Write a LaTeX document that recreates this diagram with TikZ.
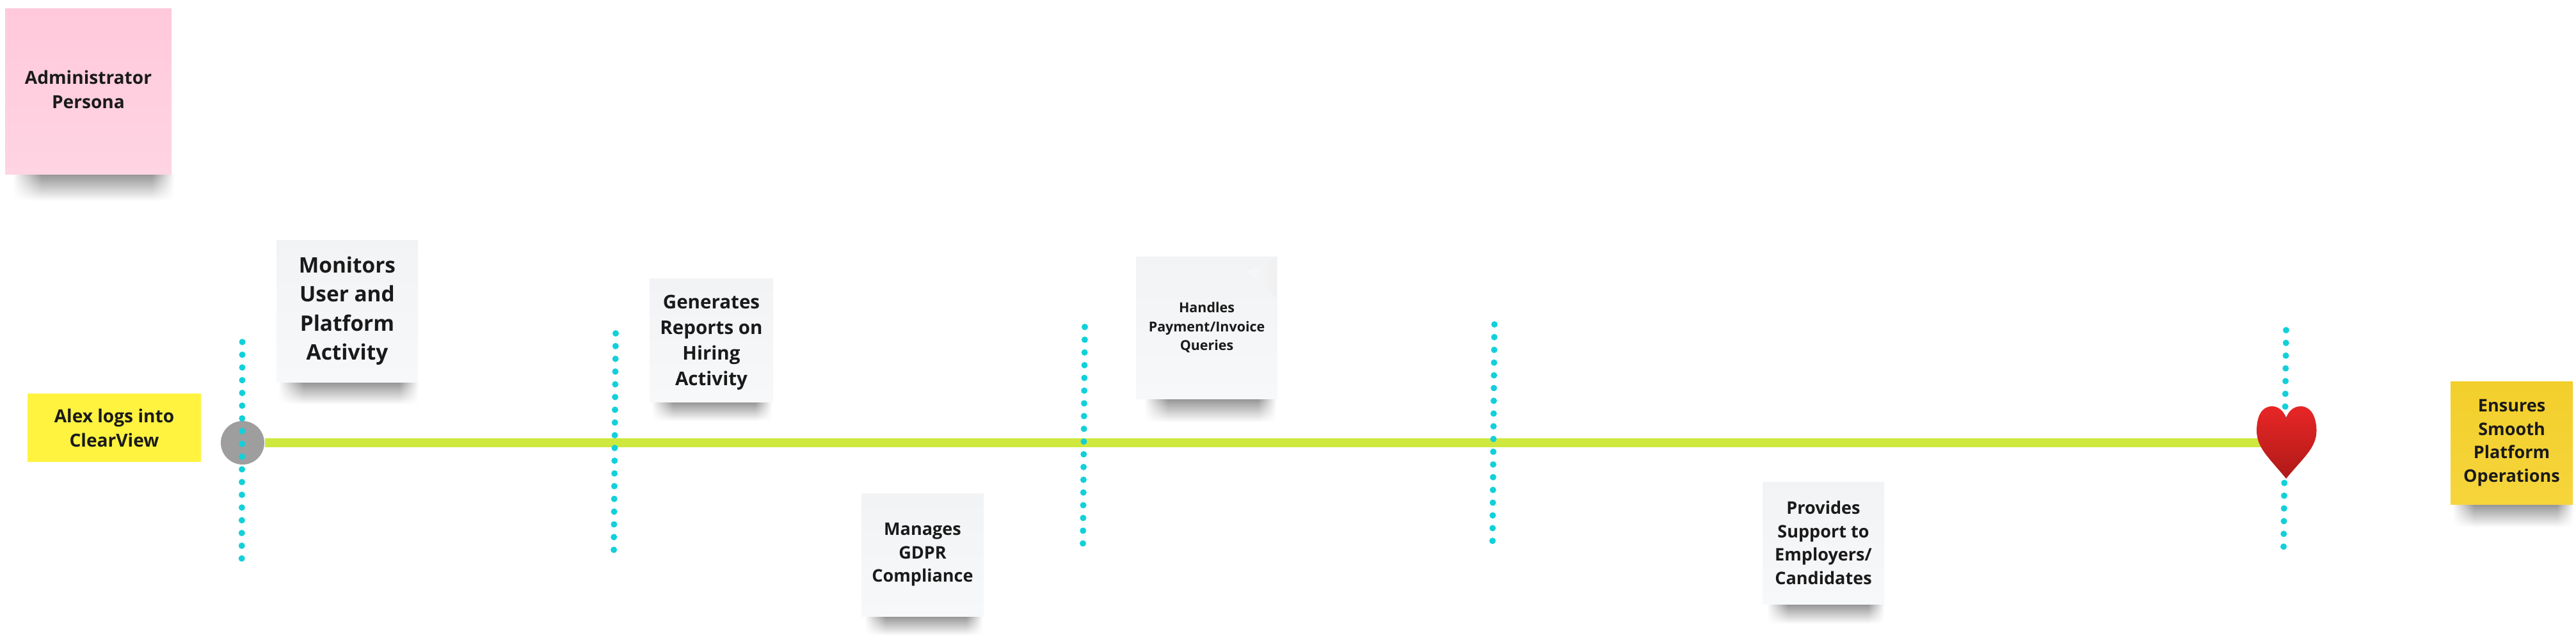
\documentclass[tikz,border=0pt]{standalone}
\usepackage{xcolor}
\usepackage{fontspec}
\usepackage{tikz}
\usetikzlibrary{fadings}
\setmainfont{Open Sans}

\definecolor{inkcol}{HTML}{1A1A1A}
\definecolor{pinktop}{HTML}{FFC9DB}
\definecolor{pinkbot}{HTML}{FFD4E3}
\definecolor{paletop}{HTML}{F2F3F5}
\definecolor{palebot}{HTML}{F7F8FA}
\definecolor{goldtop}{HTML}{F2CF2B}
\definecolor{goldbot}{HTML}{F6D53C}
\definecolor{lemoncol}{HTML}{FFF340}
\definecolor{limecol}{HTML}{CEE83E}
\definecolor{dotcol}{HTML}{12D0DA}
\definecolor{hearttop}{HTML}{E82626}
\definecolor{heartbot}{HTML}{AE1A18}

\pgfdeclarehorizontalshading{sidefade}{100bp}{color(0bp)=(pgftransparent!100); color(25bp)=(pgftransparent!100); color(34bp)=(pgftransparent!0); color(68bp)=(pgftransparent!0); color(75bp)=(pgftransparent!100); color(100bp)=(pgftransparent!100)}
\pgfdeclarefading{sidefade}{\pgfuseshading{sidefade}}

\tikzset{
    note/.style={inner sep=0pt, align=center, text=inkcol},
    pinknote/.style={note, top color=pinktop, bottom color=pinkbot},
    palenote/.style={note, top color=paletop, middle color=palebot, bottom color=palebot},
    goldnote/.style={note, top color=goldtop, bottom color=goldbot},
    lemonnote/.style={note, fill=lemoncol},
    noteshadow/.style={top color=black!42, middle color=black!5, bottom color=white, path fading=sidefade, fit fading=true},
    dotline/.style={dotcol, line width=0.1cm, line cap=round, dash pattern=on 0pt off 0.199cm},
    timeline/.style={limecol, line width=0.135cm},
    sizea/.style={font=\bfseries\fontsize{8}{10.8}\selectfont},
    sizeb/.style={font=\bfseries\fontsize{9.5}{12.95}\selectfont},
    sizec/.style={font=\bfseries\fontsize{8.4}{11.4}\selectfont},
    sized/.style={font=\bfseries\fontsize{6.1}{8.4}\selectfont},
    sizee/.style={font=\bfseries\fontsize{7.7}{10.4}\selectfont},
}

\begin{document}
\begin{tikzpicture}
    \useasboundingbox (0,0) rectangle (40.25,-9.93);

    % shadows under the notes
    \shade[noteshadow] (0.20,-2.72) rectangle (2.72,-3.14);
    \shade[noteshadow] (4.35,-5.97) rectangle (6.54,-6.32);
    \shade[noteshadow] (10.18,-6.28) rectangle (12.06,-6.58);
    \shade[noteshadow] (17.88,-6.23) rectangle (19.94,-6.60);
    \shade[noteshadow] (13.51,-9.63) rectangle (15.35,-9.93);
    \shade[noteshadow] (27.61,-9.44) rectangle (29.44,-9.75);
    \shade[noteshadow] (38.32,-7.88) rectangle (40.21,-8.24);

    % notes
    \node[pinknote, sizea, minimum width=2.60cm, minimum height=2.59cm] (persona) at (1.38,-1.425)
        {Administrator\\Persona\rule[-0.06cm]{0pt}{0pt}};
    \node[lemonnote, sizea, minimum width=2.71cm, minimum height=1.07cm] (login) at (1.785,-6.685)
        {Alex logs into\\ClearView};
    \node[palenote, sizeb, minimum width=2.21cm, minimum height=2.22cm] (monitors) at (5.425,-4.86)
        {Monitors\\User and\\Platform\\Activity};
    \node[palenote, sizec, minimum width=1.93cm, minimum height=1.93cm] (reports) at (11.115,-5.315)
        {\rule{0pt}{0.29cm}Generates\\Reports on\\Hiring\\Activity};
    \node[palenote, sizee, minimum width=1.91cm, minimum height=1.92cm] (gdpr) at (14.415,-8.67)
        {Manages\\GDPR\\Compliance};
    \node[palenote, sized, minimum width=2.21cm, minimum height=2.22cm] (payment) at (18.855,-5.12)
        {Handles\\Payment/Invoice\\Queries};
    \shade[left color=palebot, right color=black!6]
        (19.94,-4.03) -- (19.94,-4.65) -- (19.48,-4.24) -- cycle;
    \node[palenote, sizee, minimum width=1.90cm, minimum height=1.91cm] (support) at (28.49,-8.485)
        {Provides\\Support to\\Employers/\\Candidates};
    \node[goldnote, sizee, minimum width=1.91cm, minimum height=1.92cm] (outcome) at (39.245,-6.92)
        {Ensures\\Smooth\\Platform\\Operations};

    % time line
    \node[circle, fill=black!38, minimum size=0.68cm, inner sep=0pt] (start) at (3.79,-6.92) {};
    \coordinate (heart) at (35.35,-6.92);
    \draw[timeline] (start) -- (heart);

    % dotted lines
    \coordinate (dotatop) at (3.786,-5.345);
    \coordinate (dotabot) at (3.777,-8.76);
    \coordinate (dotbtop) at (9.62,-5.21);
    \coordinate (dotbbot) at (9.59,-8.63);
    \coordinate (dotctop) at (16.95,-5.11);
    \coordinate (dotcbot) at (16.92,-8.52);
    \coordinate (dotdtop) at (23.35,-5.07);
    \coordinate (dotdbot) at (23.32,-8.48);
    \coordinate (dotetop) at (35.72,-5.16);
    \coordinate (dotebot) at (35.68,-8.58);
    \draw[dotline] (dotatop) -- (dotabot);
    \draw[dotline] (dotbtop) -- (dotbbot);
    \draw[dotline] (dotctop) -- (dotcbot);
    \draw[dotline] (dotdtop) -- (dotdbot);
    \draw[dotline] (dotetop) -- (dotebot);

    % heart at the end of the line
    \shade[top color=hearttop, middle color=hearttop!85!heartbot, bottom color=heartbot]
        (35.72,-6.53) .. controls (35.68,-6.42) and (35.60,-6.35) .. (35.50,-6.35)
        .. controls (35.33,-6.35) and (35.26,-6.52) .. (35.26,-6.73)
        .. controls (35.26,-7.00) and (35.45,-7.15) .. (35.72,-7.48)
        .. controls (35.99,-7.15) and (36.195,-7.00) .. (36.195,-6.73)
        .. controls (36.195,-6.52) and (36.11,-6.35) .. (35.95,-6.35)
        .. controls (35.84,-6.35) and (35.76,-6.42) .. (35.72,-6.53) -- cycle;
\end{tikzpicture}
\end{document}
